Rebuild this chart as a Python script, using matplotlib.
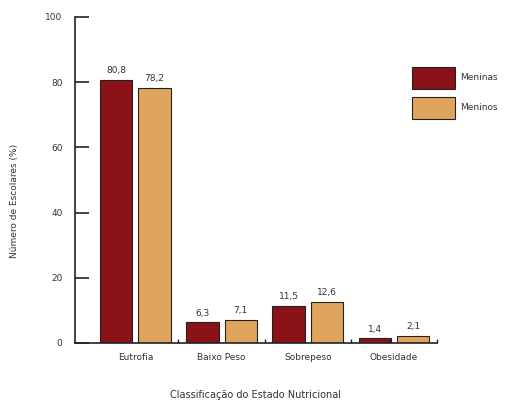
import matplotlib
matplotlib.use("Agg")
import matplotlib.pyplot as plt
from matplotlib import font_manager
import numpy as np

categories = ["Eutrofia", "Baixo Peso", "Sobrepeso", "Obesidade"]
meninas = [80.8, 6.3, 11.5, 1.4]
meninos = [78.2, 7.1, 12.6, 2.1]
meninas_labels = ["80,8", "6,3", "11,5", "1,4"]
meninos_labels = ["78,2", "7,1", "12,6", "2,1"]
yticks = [0, 20, 40, 60, 80, 100]

names = {f.name for f in font_manager.fontManager.ttflist}
fam = "Liberation Sans Narrow" if "Liberation Sans Narrow" in names else "DejaVu Sans"
plt.rcParams["font.family"] = [fam, "DejaVu Sans"]

c_red = "#8c1219"
c_or = "#e0a55c"
txt = "#333333"

fig = plt.figure(figsize=(5.07, 4.01), dpi=100)
ax = fig.add_axes([75/507, 58/401, (437-75)/507, (343-17)/401])

x = np.arange(len(categories))
w = 0.375
off = 0.2225
b1 = ax.bar(x - off, meninas, w, color=c_red, edgecolor="#222222", linewidth=0.8, label="Meninas")
b2 = ax.bar(x + off, meninos, w, color=c_or, edgecolor="#222222", linewidth=0.8, label="Meninos")

for rect, lab in zip(b1, meninas_labels):
    ax.text(rect.get_x() + rect.get_width()/2, rect.get_height() + 1.5, lab,
            ha="center", va="bottom", fontsize=6.5, color=txt)
for rect, lab in zip(b2, meninos_labels):
    ax.text(rect.get_x() + rect.get_width()/2, rect.get_height() + 1.5, lab,
            ha="center", va="bottom", fontsize=6.5, color=txt)

ax.set_xlim(-0.7, 3.5)
ax.set_ylim(0, 100)
ax.set_yticks(yticks)
ax.set_yticklabels([str(v) for v in yticks], fontsize=6.5, color=txt)
ax.tick_params(axis="y", direction="in", length=10, width=1.2, pad=9, colors="#222222", labelcolor=txt)

ax.set_xticks(x)
ax.set_xticklabels(categories, fontsize=6.5, color=txt)
ax.tick_params(axis="x", length=0, pad=7)
ax.set_xticks(x + 0.5, minor=True)
ax.tick_params(axis="x", which="minor", direction="in", length=3, width=1, colors="#222222")

for s in ["top", "right"]:
    ax.spines[s].set_visible(False)
for s in ["left", "bottom"]:
    ax.spines[s].set_linewidth(1.2)
    ax.spines[s].set_color("#222222")

ax.set_xlabel("Classificação do Estado Nutricional", fontsize=7, color=txt, labelpad=20)
fig.text(15/507, 200/401, "Número de Escolares (%)", rotation=90, ha="center", va="center",
         fontsize=6.5, color=txt)

ax.legend(loc="upper left", bbox_to_anchor=(412/507, 1 - 67/401), bbox_transform=fig.transFigure,
          frameon=False, fontsize=6.5, borderpad=0, borderaxespad=0,
          handlelength=4.8, handleheight=3.35, labelspacing=0.9, handletextpad=0.55,
          labelcolor=txt)

fig.savefig("out.png", dpi=100)
